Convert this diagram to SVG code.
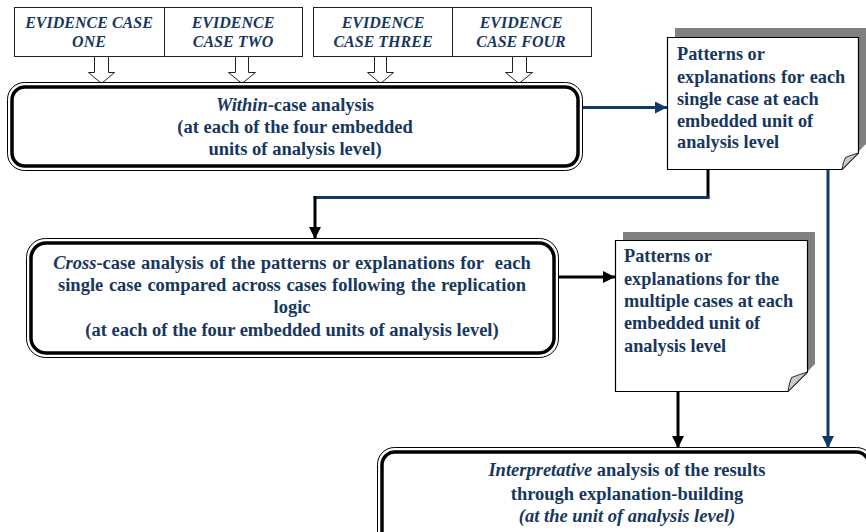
<svg xmlns="http://www.w3.org/2000/svg" width="866" height="532" viewBox="0 0 866 532">
  <defs>
    <style>
      .txt { font-family: "Liberation Serif", "Times New Roman", serif; font-weight: bold; fill: #17375E; }
      .ev { font-size: 16px; font-style: italic; text-anchor: middle; }
      .main { font-size: 18.5px; text-anchor: middle; }
      .note { font-size: 18.3px; }
      .it { font-style: italic; }
      .pre { white-space: pre; }
      .evbox { fill: #fff; stroke: #222; stroke-width: 1; }
      .hollow { fill: #fff; stroke: #222; stroke-width: 1; }
      .outer { fill: #fff; stroke: #000; stroke-width: 1; }
      .inner { fill: none; stroke: #000; stroke-width: 3.5; }
      .paper { fill: #fff; stroke: #000; stroke-width: 1.2; }
      .shadow { fill: #808080; }
      .curl { fill: #c8c8c8; stroke: #000; stroke-width: 0.8; }
      .blue { fill: none; stroke: #0F3A6B; stroke-width: 3; }
      .black { fill: none; stroke: #000; stroke-width: 3; }
    </style>
    <marker id="headBlue" markerUnits="userSpaceOnUse" markerWidth="12" markerHeight="12" viewBox="0 0 12 12" refX="12" refY="6" orient="auto">
      <path d="M0,0 L12,6 L0,12 Z" fill="#0F3A6B"/>
    </marker>
    <marker id="headBlack" markerUnits="userSpaceOnUse" markerWidth="12" markerHeight="12" viewBox="0 0 12 12" refX="12" refY="6" orient="auto">
      <path d="M0,0 L12,6 L0,12 Z" fill="#000"/>
    </marker>
  </defs>

  <rect width="866" height="532" fill="#fff"/>

  <!-- evidence cases -->
  <g id="case-one">
    <rect class="evbox" x="14.5" y="7.5" width="150" height="49"/>
    <text class="txt ev" x="89" y="28">EVIDENCE CASE</text>
    <text class="txt ev" x="89" y="47">ONE</text>
    <path class="hollow" d="M94.5,56.5 V72.5 H88.5 L101.5,83.5 L114.5,72.5 H108.5 V56.5 Z"/>
  </g>
  <g id="case-two">
    <rect class="evbox" x="164.5" y="7.5" width="138" height="49"/>
    <text class="txt ev" x="233" y="28">EVIDENCE</text>
    <text class="txt ev" x="233" y="47">CASE TWO</text>
    <path class="hollow" d="M235.5,56.5 V72.5 H228.5 L242,83.5 L255.5,72.5 H248.5 V56.5 Z"/>
  </g>
  <g id="case-three">
    <rect class="evbox" x="313.5" y="7.5" width="139" height="49"/>
    <text class="txt ev" x="383" y="28">EVIDENCE</text>
    <text class="txt ev" x="383" y="47">CASE THREE</text>
    <path class="hollow" d="M374.5,56.5 V72.5 H367.5 L380.5,83.5 L393.5,72.5 H386.5 V56.5 Z"/>
  </g>
  <g id="case-four">
    <rect class="evbox" x="452.5" y="7.5" width="139" height="49"/>
    <text class="txt ev" x="521" y="28">EVIDENCE</text>
    <text class="txt ev" x="521" y="47">CASE FOUR</text>
    <path class="hollow" d="M512.5,56.5 V72.5 H505.5 L519,83.5 L532.5,72.5 H526.5 V56.5 Z"/>
  </g>

  <!-- within-case analysis -->
  <g id="within-case">
    <rect class="outer" x="7.5" y="82.5" width="575" height="88" rx="17"/>
    <rect class="inner" x="12" y="87" width="566" height="79" rx="13"/>
    <text class="txt main" x="295" y="111"><tspan class="it">Within</tspan>-case analysis</text>
    <text class="txt main" x="295" y="133">(at each of the four embedded</text>
    <text class="txt main" x="295" y="155">units of analysis level)</text>
  </g>

  <!-- patterns for each single case -->
  <g id="single-case-patterns">
    <path class="shadow" d="M675,28 H866 V144 L850,160 H675 Z"/>
    <path class="paper" d="M667.5,37.5 H858.5 V153 L842,169.5 H667.5 Z"/>
    <path class="curl" d="M842,169.5 Q843,162 845.5,157.5 Q851,155 858.5,153 Z"/>
    <text class="txt note" x="677" y="60">Patterns or</text>
    <text class="txt note" x="677" y="83" word-spacing="1">explanations for each</text>
    <text class="txt note" x="677" y="105">single case at each</text>
    <text class="txt note" x="677" y="127">embedded unit of</text>
    <text class="txt note" x="677" y="148">analysis level</text>
  </g>

  <!-- cross-case analysis -->
  <g id="cross-case">
    <rect class="outer" x="26.5" y="238.5" width="532" height="119" rx="19"/>
    <rect class="inner" x="31" y="243" width="523" height="110" rx="15"/>
    <text class="txt main pre" x="292" y="269" word-spacing="1"><tspan class="it">Cross</tspan>-case analysis of the patterns or explanations for  each</text>
    <text class="txt main" x="292" y="291" word-spacing="1">single case compared across cases following the replication</text>
    <text class="txt main" x="292" y="313">logic</text>
    <text class="txt main" x="292" y="336">(at each of the four embedded units of analysis level)</text>
  </g>

  <!-- patterns for the multiple cases -->
  <g id="multiple-case-patterns">
    <path class="shadow" d="M623,232 H815 V364 L796,383 H623 Z"/>
    <path class="paper" d="M615.5,240.5 H807.5 V372 L788,391.5 H615.5 Z"/>
    <path class="curl" d="M788,391.5 Q789,383 791.5,377.5 Q799,374.5 807.5,372 Z"/>
    <text class="txt note" x="624" y="262">Patterns or</text>
    <text class="txt note" x="624" y="285">explanations for the</text>
    <text class="txt note" x="624" y="307">multiple cases at each</text>
    <text class="txt note" x="624" y="329">embedded unit of</text>
    <text class="txt note" x="624" y="352">analysis level</text>
  </g>

  <!-- interpretative analysis -->
  <g id="interpretative">
    <rect class="outer" x="377.5" y="447.5" width="496" height="110" rx="17"/>
    <rect class="inner" x="382" y="452" width="487" height="101" rx="13"/>
    <text class="txt main" x="627" y="476"><tspan class="it">Interpretative</tspan> analysis of the results</text>
    <text class="txt main" x="627" y="500">through explanation-building</text>
    <text class="txt main it" x="627" y="522">(at the unit of analysis level)</text>
  </g>

  <!-- connectors -->
  <g id="connectors">
    <path class="blue" d="M583,107.5 H667" marker-end="url(#headBlue)"/>
    <path class="black" d="M708,170 V198"/>
    <path class="blue" d="M709.5,197.5 H313.5"/>
    <path class="black" d="M315,196 V239" marker-end="url(#headBlack)"/>
    <path class="black" d="M559,277 H615" marker-end="url(#headBlack)"/>
    <path class="blue" d="M828,170 V448" marker-end="url(#headBlue)"/>
    <path class="black" d="M678,392 V448" marker-end="url(#headBlack)"/>
  </g>
</svg>
